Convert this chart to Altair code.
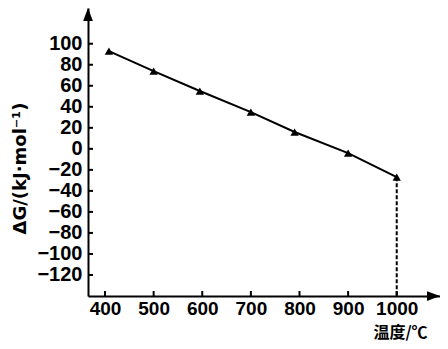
import altair as alt
import pandas as pd

# data
temps = [408, 500, 595, 700, 790, 900, 1000]
dG = [93, 74, 55, 35, 16, -4, -27]
x_ticks = [400, 500, 600, 700, 800, 900, 1000]
y_ticks = [100, 80, 60, 40, 20, 0, -20, -40, -60, -80, -100, -120]
x_domain = [365, 1089]
y_domain = [-140, 134]

W, H = 352, 288

df = pd.DataFrame({"t": temps, "g": dG})
last = df.tail(1)
xt = pd.DataFrame({"t": x_ticks})
yt = pd.DataFrame({"g": y_ticks})
arrow_x = pd.DataFrame({"t": [x_domain[1]], "g": [y_domain[0]]})
arrow_y = pd.DataFrame({"t": [x_domain[0]], "g": [y_domain[1]]})

xs = alt.Scale(domain=x_domain, nice=False, zero=False)
ys = alt.Scale(domain=y_domain, nice=False, zero=False)

LF = "Liberation Sans"
x_axis = alt.Axis(values=x_ticks, title="温度/℃", ticks=False, grid=False,
                  format="d", labelOverlap=False,
                  domainColor="black", domainWidth=2,
                  labelFont=LF, labelFontSize=19, labelFontWeight="bold",
                  labelColor="black", labelPadding=3, labelFlush=False,
                  titleFont="Noto Sans CJK SC", titleFontSize=16, titleFontWeight="bold",
                  titleColor="black", titleX=312, titleY=36,
                  titleAlign="center", titleBaseline="middle")
y_axis = alt.Axis(values=y_ticks, title="ΔG/(kJ·mol⁻¹)", ticks=False, grid=False,
                  format="d", labelOverlap=False,
                  domainColor="black", domainWidth=2,
                  labelFont=LF, labelFontSize=20, labelFontWeight="bold",
                  labelColor="black", labelPadding=6, labelFlush=False,
                  titleFont="DejaVu Sans", titleFontSize=18, titleFontWeight="bold",
                  titleColor="black", titleX=-68, titleY=160, titleAngle=270,
                  titleAlign="center", titleBaseline="middle")

X = alt.X("t:Q", scale=xs, axis=x_axis)
Y = alt.Y("g:Q", scale=ys, axis=y_axis)

line = alt.Chart(df).mark_line(color="black", strokeWidth=2).encode(x=X, y=Y)
pts = alt.Chart(df).mark_point(shape="triangle-up", filled=True, color="black",
                               size=70, opacity=1).encode(x=X, y=Y)

dash = alt.Chart(last).mark_rule(color="black", strokeWidth=2,
                                 strokeDash=[4, 2]).encode(
    x=X, y=Y, y2=alt.datum(y_domain[0]))

ytick = alt.Chart(yt).mark_rule(color="black", strokeWidth=2).encode(
    x=alt.value(0), x2=alt.value(5), y=Y)
xtick = alt.Chart(xt).mark_rule(color="black", strokeWidth=2).encode(
    x=X, y=alt.value(H), y2=alt.value(H - 5))

arr_r = alt.Chart(arrow_x).mark_point(shape="M0,0 L-2,-0.75 L-2,0.75 Z", filled=True,
                                      color="black", size=169, opacity=1).encode(x=X, y=Y)
arr_u = alt.Chart(arrow_y).mark_point(shape="M0,0 L-0.75,2 L0.75,2 Z", filled=True,
                                      color="black", size=169, opacity=1).encode(x=X, y=Y)

chart = alt.layer(line, dash, pts, ytick, xtick, arr_r, arr_u).properties(
    width=W, height=H,
    padding={"left": 80, "top": 0, "right": 0, "bottom": 45},
    autosize=alt.AutoSizeParams(type="none"),
).configure_view(stroke=None)

chart.save("out.html", embed_options={"renderer": "svg", "actions": False})
